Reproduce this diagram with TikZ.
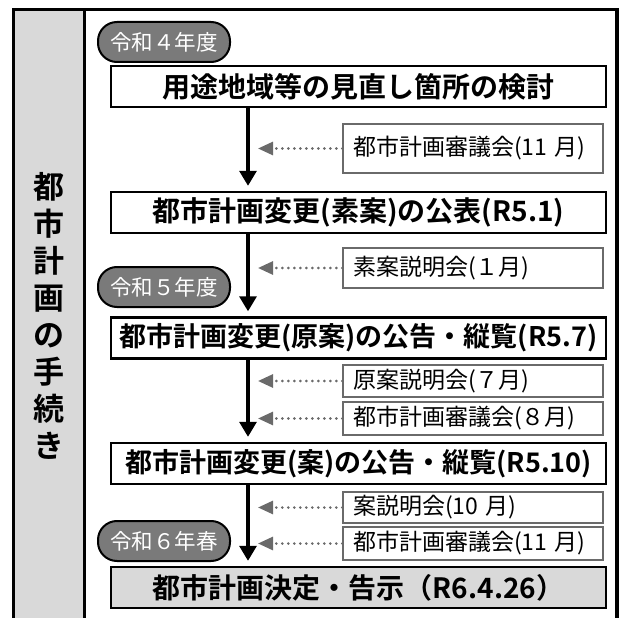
\documentclass[tikz,border=0pt]{standalone}
\usepackage{fontspec}
\setmainfont{Noto Sans CJK JP}[BoldFont={Noto Sans CJK JP Bold}]
\usetikzlibrary{positioning,arrows.meta,calc}
\definecolor{panelgray}{HTML}{D9D9D9}
\definecolor{pillgray}{HTML}{7A7A7A}
\definecolor{notegray}{HTML}{6A6A6A}

\begin{document}
\begin{tikzpicture}[
    x=1pt, y=-1pt,
    stepbox/.style={draw=black, line width=2.4pt, fill=white, minimum width=495pt, minimum height=41pt, inner sep=0pt, font=\fontsize{28pt}{30pt}\selectfont\bfseries},
    notebox/.style={draw=notegray, line width=1.3pt, fill=white, text width=240pt, align=left, inner xsep=10pt, inner ysep=0pt, font=\fontsize{23pt}{25pt}\selectfont},
    pill/.style={draw=black, line width=2pt, fill=pillgray, text=white, rounded corners=19pt, minimum width=132pt, minimum height=40pt, inner sep=0pt, font=\fontsize{21.5pt}{24pt}\selectfont},
    flow/.style={line width=3.2pt, -{Triangle[length=15pt, width=17pt]}, shorten >=5pt},
    feed/.style={draw=notegray, line width=2.8pt, line cap=round, dash pattern=on 0pt off 6pt, -{Triangle[length=15pt, width=13pt, fill=notegray, line cap=butt]}}
]
    \useasboundingbox (0,0) rectangle (622,618);

    % 1. Cornice e colonna laterale
    \fill[panelgray] (13.5,9.5) rectangle (84.5,622);
    \draw[line width=3.5pt] (13.5,622) -- (13.5,9.5) -- (617,9.5) -- (617,622);
    \draw[line width=3.5pt] (84.5,9.5) -- (84.5,622);
    \node[font=\fontsize{31pt}{37pt}\selectfont\bfseries, align=center] (title) at (49,316) {都\\市\\計\\画\\の\\手\\続\\き};

    % 2. Passi principali
    \node[stepbox] (plan) at (358.5,86.5) {用途地域等の見直し箇所の検討};
    \node[stepbox] (draft) at (358.5,212.5) {都市計画変更(素案)の公表(R5.1)};
    \node[stepbox, font=\fontsize{27pt}{30pt}\selectfont\bfseries] (orig) at (358.5,338) {都市計画変更(原案)の公告・縦覧(R5.7)};
    \node[stepbox, font=\fontsize{27pt}{30pt}\selectfont\bfseries] (final) at (358.5,463.5) {都市計画変更(案)の公告・縦覧(R5.10)};
    \node[stepbox, fill=panelgray] (decide) at (358.5,587.5) {都市計画決定・告示（R6.4.26）};

    % 3. Etichette degli anni
    \node[pill] (year4) at (164,42) {令和４年度};
    \node[pill] (year5) at (164,287) {令和５年度};
    \node[pill] (year6) at (164,541) {令和６年春};

    % 4. Riunioni e spiegazioni
    \node[notebox, minimum height=49pt] (council1) at (473,148.5) {都市計画審議会(11 月)};
    \node[notebox, minimum height=40pt] (brief1) at (473,268) {素案説明会(１月)};
    \node[notebox, minimum height=32pt] (brief7) at (473,381) {原案説明会(７月)};
    \node[notebox, minimum height=33pt] (council8) at (473,418.5) {都市計画審議会(８月)};
    \node[notebox, minimum height=31pt] (brief10) at (473,507.5) {案説明会(10 月)};
    \node[notebox, minimum height=33pt] (council11) at (473,543.5) {都市計画審議会(11 月)};

    % --- FRECCE ---
    \coordinate (axis) at (248,0);
    \coordinate (tip) at (258,0);
    \draw[flow] (plan.south -| axis) -- (draft.north -| axis);
    \draw[flow] (draft.south -| axis) -- (orig.north -| axis);
    \draw[flow] (orig.south -| axis) -- (final.north -| axis);
    \draw[flow] (final.south -| axis) -- (decide.north -| axis);

    \foreach \n in {council1,brief1,brief7,council8,brief10,council11}
        \draw[feed] (\n.west) -- (\n.west -| tip);

\end{tikzpicture}
\end{document}
